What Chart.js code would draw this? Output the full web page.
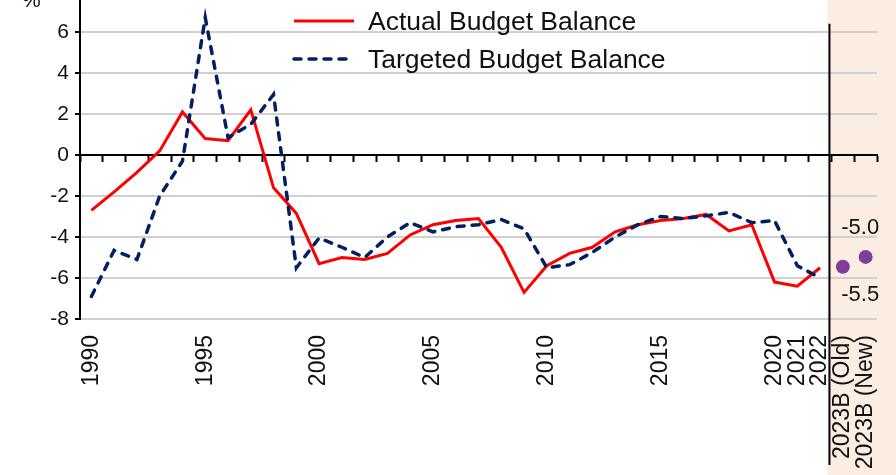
<!DOCTYPE html>
<html>
<head>
<meta charset="utf-8">
<script src="https://cdn.jsdelivr.net/npm/chart.js@4/dist/chart.umd.min.js"></script>
<style>
  html, body { margin: 0; padding: 0; background: #fff; overflow: hidden; }
  #wrap { position: absolute; left: 0; top: -23px; width: 896px; height: 498px; }
</style>
</head>
<body>
<div id="wrap"><canvas id="chart" width="896" height="498"></canvas></div>
<script>
const years = ['1990', '1991', '1992', '1993', '1994', '1995', '1996', '1997', '1998', '1999',
  '2000', '2001', '2002', '2003', '2004', '2005', '2006', '2007', '2008', '2009',
  '2010', '2011', '2012', '2013', '2014', '2015', '2016', '2017', '2018', '2019',
  '2020', '2021', '2022'];
const budgetCats = ['2023B (Old)', '2023B (New)'];
const shownLabels = ['1990', '1995', '2000', '2005', '2010', '2015', '2020', '2021', '2022',
  '2023B (Old)', '2023B (New)'];

// % of GDP
const actual = [-2.7, -1.8, -0.85, 0.2, 2.1, 0.8, 0.7, 2.2, -1.6, -2.85,
  -5.3, -5.0, -5.1, -4.8, -3.9, -3.4, -3.2, -3.1, -4.5, -6.7,
  -5.4, -4.8, -4.5, -3.75, -3.4, -3.2, -3.1, -2.9, -3.7, -3.4,
  -6.2, -6.4, -5.5];
const targeted = [-6.9, -4.65, -5.1, -2.0, -0.3, 6.7, 0.85, 1.5, 2.95, -5.5,
  -4.05, -4.5, -5.0, -4.0, -3.3, -3.75, -3.5, -3.4, -3.15, -3.6,
  -5.5, -5.35, -4.75, -4.0, -3.4, -3.0, -3.1, -2.97, -2.8, -3.3,
  -3.2, -5.4, -6.0];
const budgetValues = [-5.45, -4.97];
const budgetLabels = ['-5.5', '-5.0'];

const labels = years.concat(budgetCats);
const FONT = "'Liberation Sans', Arial, sans-serif";
const RED = '#ff0000';
const NAVY = '#002060';
const PURPLE = '#7f3f98';

const decor = {
  id: 'decor',
  beforeDraw(chart) {
    const { ctx, scales: { x } } = chart;
    const edge = (x.getPixelForValue(years.length - 1) + x.getPixelForValue(years.length)) / 2;
    ctx.save();
    ctx.fillStyle = '#fcede3';
    ctx.fillRect(edge - 4, 0, chart.width - edge + 4, chart.height);
    ctx.restore();
  },
  afterDraw(chart) {
    const { ctx, scales: { x, y } } = chart;
    const edge = (x.getPixelForValue(years.length - 1) + x.getPixelForValue(years.length)) / 2;
    ctx.save();

    // separator before the budget points
    ctx.strokeStyle = '#000';
    ctx.lineWidth = 2;
    ctx.beginPath();
    ctx.moveTo(edge - 2, y.getPixelForValue(6.4));
    ctx.lineTo(edge - 2, chart.height - 10);
    ctx.stroke();

    // labels for the budget points
    const xo = x.getPixelForValue(years.length);
    const xn = x.getPixelForValue(years.length + 1);
    const yo = y.getPixelForValue(budgetValues[0]);
    const yn = y.getPixelForValue(budgetValues[1]);
    const lx = (xo + xn) / 2 + 6;
    ctx.fillStyle = '#111';
    ctx.font = '22px ' + FONT;
    ctx.textAlign = 'center';
    ctx.textBaseline = 'middle';
    ctx.fillText(budgetLabels[1], lx, Math.min(yo, yn) - 29);
    ctx.fillText(budgetLabels[0], lx, Math.max(yo, yn) + 28);

    // unit
    ctx.textAlign = 'left';
    ctx.textBaseline = 'alphabetic';
    ctx.font = '21px ' + FONT;
    ctx.fillText('%', 22, 30);

    // legend
    const items = chart.data.datasets.slice(0, 2);
    ctx.font = '26.5px ' + FONT;
    ctx.textBaseline = 'middle';
    items.forEach((ds, i) => {
      const ly = 44 + i * 38;
      ctx.strokeStyle = ds.borderColor;
      ctx.lineWidth = ds.borderWidth;
      ctx.lineCap = ds.borderCapStyle || 'butt';
      ctx.setLineDash(ds.borderDash || []);
      ctx.beginPath();
      ctx.moveTo(294, ly);
      ctx.lineTo(354, ly);
      ctx.stroke();
      ctx.setLineDash([]);
      ctx.fillStyle = '#111';
      ctx.fillText(ds.label, 368, ly + 2);
    });
    ctx.restore();
  }
};

new Chart(document.getElementById('chart'), {
  type: 'line',
  data: {
    labels: labels,
    datasets: [
      {
        label: 'Actual Budget Balance',
        data: actual,
        borderColor: RED,
        borderWidth: 3,
        pointRadius: 0,
        tension: 0,
        order: 2
      },
      {
        label: 'Targeted Budget Balance',
        data: targeted,
        borderColor: NAVY,
        borderWidth: 3.5,
        borderDash: [7, 8],
        borderCapStyle: 'round',
        pointRadius: 0,
        tension: 0,
        order: 1
      },
      {
        label: 'Budget',
        data: years.map(() => null).concat(budgetValues),
        showLine: false,
        pointRadius: 7,
        pointBackgroundColor: PURPLE,
        pointBorderWidth: 0,
        order: 0
      }
    ]
  },
  options: {
    responsive: false,
    animation: false,
    layout: { padding: { top: 14, right: 19, left: 0, bottom: 0 } },
    plugins: {
      legend: { display: false },
      tooltip: { enabled: false }
    },
    scales: {
      x: {
        type: 'category',
        position: { y: 0 },
        offset: true,
        ticks: { display: false },
        grid: {
          offset: true,
          drawOnChartArea: false,
          drawTicks: true,
          tickLength: 6,
          tickColor: '#000',
          tickWidth: 2
        },
        border: { color: '#000', width: 2 }
      },
      x2: {
        type: 'category',
        position: 'bottom',
        labels: labels,
        offset: true,
        grid: { display: false },
        border: { display: false },
        ticks: {
          autoSkip: false,
          maxRotation: 90,
          minRotation: 90,
          padding: 8,
          color: '#111',
          font: { family: FONT, size: 23 },
          callback: function (v) {
            const l = this.getLabelForValue(v);
            return shownLabels.includes(l) ? l : '';
          }
        },
        afterFit: (s) => {
          s.height = 156;
          s.paddingLeft = 0;
          s.paddingRight = 0;
        }
      },
      y: {
        min: -8,
        max: 8,
        ticks: {
          stepSize: 2,
          padding: 6,
          color: '#111',
          font: { family: FONT, size: 21 },
          callback: (v) => (v === 8 ? '' : v)
        },
        grid: {
          color: '#d0d0d0',
          lineWidth: 2,
          tickLength: 5,
          tickColor: '#000',
          tickWidth: 2
        },
        border: { color: '#000', width: 2 },
        afterFit: (s) => {
          s.width = 80;
          s.paddingTop = 0;
          s.paddingBottom = 0;
        }
      }
    }
  },
  plugins: [decor]
});
</script>
</body>
</html>
